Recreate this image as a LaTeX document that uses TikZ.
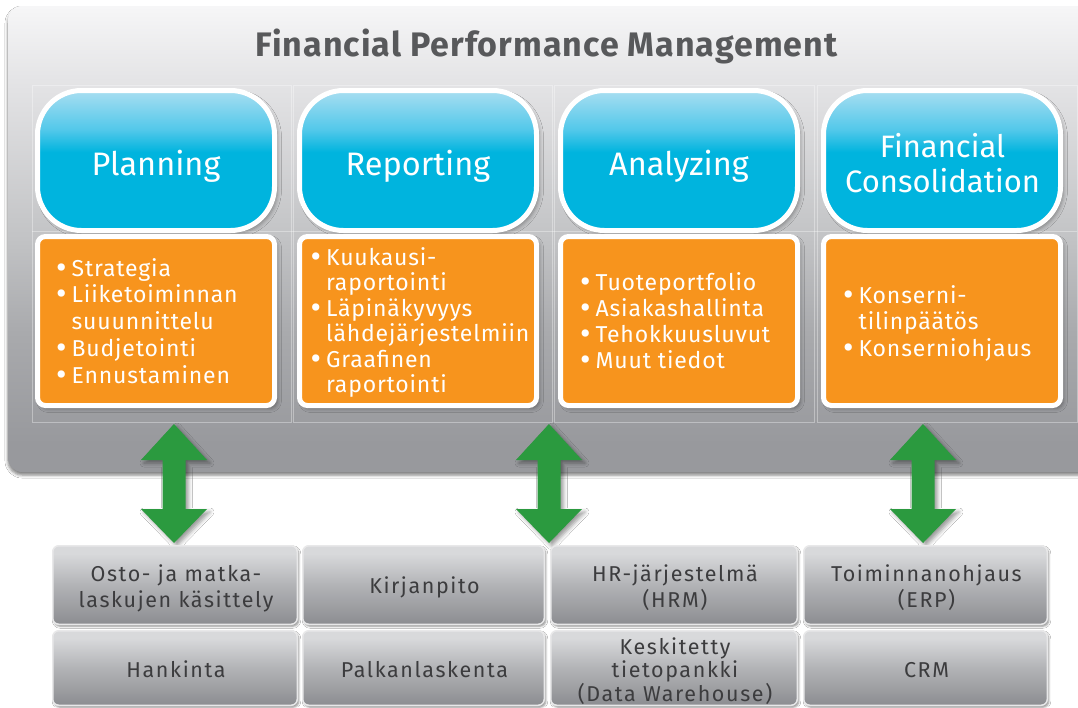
\documentclass[tikz,border=0pt]{standalone}
\usepackage{fontspec}
\setmainfont{Fira Sans}
\newfontfamily\titlefont[LetterSpace=3]{Fira Sans}
\newfontfamily\listfont[LetterSpace=3.5]{Fira Sans}
\newfontfamily\sysfont[LetterSpace=7.5]{Fira Sans}
\usetikzlibrary{shadows.blur}
\definecolor{pan0}{HTML}{F6F6F7}
\definecolor{pan1}{HTML}{E3E3E5}
\definecolor{pan2}{HTML}{C2C3C5}
\definecolor{pan3}{HTML}{A9AAAD}
\definecolor{pan4}{HTML}{98999D}
\definecolor{blueA}{HTML}{A8DEF1}
\definecolor{blueB}{HTML}{52C8EA}
\definecolor{blueC}{HTML}{00B4DE}
\definecolor{orangeF}{HTML}{F7941D}
\definecolor{greenA}{HTML}{2B9A3F}
\definecolor{titleC}{HTML}{58595B}
\definecolor{boxtxt}{HTML}{3C3C3E}
\definecolor{btop}{HTML}{D8D9DB}
\definecolor{bmid}{HTML}{B2B3B6}
\definecolor{bbot}{HTML}{8C8D91}
\definecolor{bedge}{HTML}{E8E8E9}
\pgfdeclareverticalshading{panelsh}{100bp}{color(0bp)=(pan4); color(28bp)=(pan4); color(40bp)=(pan3); color(50bp)=(pan2); color(66.5bp)=(pan1); color(75bp)=(pan0); color(100bp)=(pan0)}
\pgfdeclareverticalshading{bluesh}{100bp}{color(0bp)=(blueC); color(53bp)=(blueC); color(61bp)=(blueB); color(75bp)=(blueA); color(100bp)=(blueA)}
\pgfdeclareverticalshading{greysh}{100bp}{color(0bp)=(bbot); color(25bp)=(bbot); color(50bp)=(bmid); color(70bp)=(btop); color(100bp)=(btop)}
\newcommand{\mybul}{\makebox[15.5pt][l]{\raisebox{-2pt}{\scalebox{1.4}{\textbullet}}}}
\newcommand{\myind}{\hspace*{15.5pt}}
\tikzset{
  softshadow/.style={blur shadow={shadow xshift=3pt, shadow yshift=-3pt, shadow blur radius=4pt, shadow opacity=35}},
  bluebox/.style={draw=white, line width=5pt, rounded corners=44pt, shading=bluesh, minimum width=237pt, minimum height=140pt, inner sep=0pt, softshadow},
  orangebox/.style={draw=white, line width=5pt, rounded corners=8pt, fill=orangeF, minimum width=237pt, minimum height=169pt, inner sep=0pt, softshadow},
  bluetxt/.style={text=white, font=\fontsize{32.5}{36}\selectfont, anchor=base, inner sep=0pt},
  listtxt/.style={text=white, anchor=base west, inner sep=0pt},
  sysbox/.style={draw=bedge, line width=1.5pt, rounded corners=6pt, shading=greysh, inner sep=0pt, blur shadow={shadow xshift=1.5pt, shadow yshift=-2pt, shadow blur radius=2pt, shadow opacity=45}},
  systxt/.style={text=boxtxt, font=\sysfont\fontsize{21.5}{26}\selectfont, anchor=base, inner sep=0pt},
  gridline/.style={draw=white, opacity=0.35, line width=0.7pt},
  garrow/.style={fill=greenA, blur shadow={shadow xshift=3pt, shadow yshift=-3pt, shadow blur radius=4pt, shadow opacity=40}},
}
\begin{document}
\begin{tikzpicture}[x=1pt,y=-1pt]
\useasboundingbox (0,0) rectangle (1078,707);
\fill[white] (0,0) rectangle (1078,707);
% panel
\shade[shading=panelsh, rounded corners=14pt, blur shadow={shadow xshift=0pt, shadow yshift=-3pt, shadow blur radius=3pt, shadow opacity=50}] (8,6) rectangle (1100,472);
% faint grid
\draw[gridline] (32,85) rectangle (291,422);
\draw[gridline] (293,85) rectangle (552,422);
\draw[gridline] (554,85) rectangle (814.5,422);
\draw[gridline] (817,85) rectangle (1077,422);
\draw[gridline] (32,231) -- (1077,231);
% title
\node[anchor=base, text=titleC, inner sep=0pt, font=\titlefont\bfseries\fontsize{34}{36}\selectfont] (title) at (546.5,56) {Financial Performance Management};
% blue boxes
\node[bluebox] (pl) at (156,160.5) {};
\node[bluebox] (rp) at (418,160.5) {};
\node[bluebox] (an) at (679,160.5) {};
\node[bluebox] (fc) at (942,160.5) {};
\node[bluetxt] (plt) at (156,175) {Planning};
\node[bluetxt] (rpt) at (418,175) {Reporting};
\node[bluetxt] (ant) at (679,175) {Analyzing};
\node[bluetxt, font=\fontsize{31}{34}\selectfont] (fct1) at (942.5,157.7) {Financial};
\node[bluetxt, font=\fontsize{31}{34}\selectfont] (fct2) at (942.5,192.7) {Consolidation};
% orange boxes
\node[orangebox] (plo) at (156,321) {};
\node[orangebox] (rpo) at (418,321) {};
\node[orangebox] (ano) at (679,321) {};
\node[orangebox] (fco) at (942,321) {};
\node[listtxt] (pll) at (56,276) {\listfont\fontsize{23}{26.75}\selectfont\begin{tabular}[t]{@{}l@{}}\mybul Strategia\\ \mybul Liiketoiminnan\\ \myind suuunnittelu\\ \mybul Budjetointi\\ \mybul Ennustaminen\end{tabular}};
\node[listtxt] (rpl) at (310.4,265) {\listfont\fontsize{23}{25.5}\selectfont\begin{tabular}[t]{@{}l@{}}\mybul Kuukausi-\\ \myind raportointi\\ \mybul Läpinäkyvyys\\ \myind lähdejärjestelmiin\\ \mybul Graafinen\\ \myind raportointi\end{tabular}};
\node[listtxt] (anl) at (580,290) {\listfont\fontsize{23}{26.3}\selectfont\begin{tabular}[t]{@{}l@{}}\mybul Tuoteportfolio\\ \mybul Asiakashallinta\\ \mybul Tehokkuusluvut\\ \mybul Muut tiedot\end{tabular}};
\node[listtxt] (fcl) at (843,303) {\listfont\fontsize{23}{26.5}\selectfont\begin{tabular}[t]{@{}l@{}}\mybul Konserni-\\ \myind tilinpäätös\\ \mybul Konserniohjaus\end{tabular}};
% arrows
\coordinate (a1t) at (174,424); \coordinate (a1b) at (174,543);
\coordinate (a2t) at (549,424); \coordinate (a2b) at (549,543);
\coordinate (a3t) at (923,424); \coordinate (a3b) at (923,543);
\foreach \t/\b in {a1t/a1b, a2t/a2b, a3t/a3b}{
  \fill[garrow] (\t) -- ++(33,36) -- ++(-21.5,0) -- ++(0,49) -- ++(21.5,0) -- (\b) -- ++(-33,-34) -- ++(21.5,0) -- ++(0,-49) -- ++(-21.5,0) -- cycle;
}
% bottom boxes
\node[sysbox, minimum width=244.5pt, minimum height=78.5pt] (osto) at (175,585) {};
\node[sysbox, minimum width=241.5pt, minimum height=78.5pt] (kirj) at (423.5,585) {};
\node[sysbox, minimum width=246.5pt, minimum height=78.5pt] (hr) at (674,585) {};
\node[sysbox, minimum width=243.5pt, minimum height=78.5pt] (erp) at (925.5,585) {};
\node[sysbox, minimum width=244.5pt, minimum height=74.5pt] (hank) at (175,668) {};
\node[sysbox, minimum width=241.5pt, minimum height=74.5pt] (palk) at (423.5,668) {};
\node[sysbox, minimum width=246.5pt, minimum height=74.5pt] (dw) at (674,668) {};
\node[sysbox, minimum width=243.5pt, minimum height=74.5pt] (crm) at (925.5,668) {};
\node[systxt] (ostot) at (176,581) {\begin{tabular}[t]{@{}c@{}}Osto- ja matka-\\ laskujen käsittely\end{tabular}};
\node[systxt] (kirjt) at (424.5,593) {Kirjanpito};
\node[systxt] (hrt) at (675,581) {\begin{tabular}[t]{@{}c@{}}HR-järjestelmä\\ (HRM)\end{tabular}};
\node[systxt] (erpt) at (926.5,581) {\begin{tabular}[t]{@{}c@{}}Toiminnanohjaus\\ (ERP)\end{tabular}};
\node[systxt] (hankt) at (176,677) {Hankinta};
\node[systxt] (palkt) at (424.5,677) {Palkanlaskenta};
\node[systxt, font=\sysfont\fontsize{21.5}{21.5}\selectfont] (dwt) at (675,654) {\begin{tabular}[t]{@{}c@{}}Keskitetty\\ tietopankki\\ (Data Warehouse)\end{tabular}};
\node[systxt] (crmt) at (926.5,677) {CRM};
\end{tikzpicture}
\end{document}
